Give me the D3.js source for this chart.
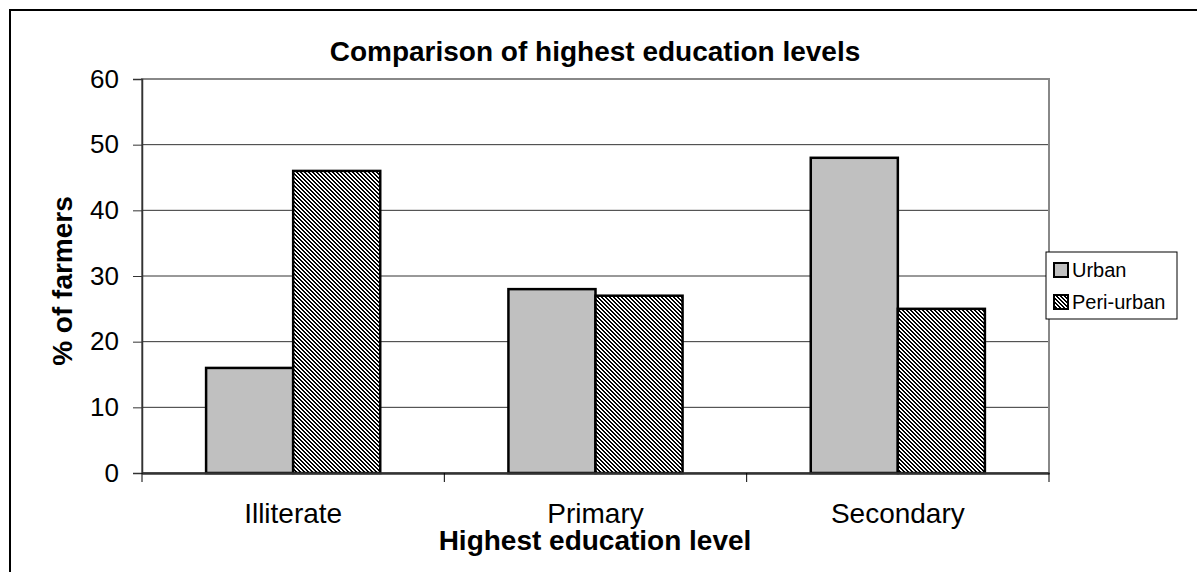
<!DOCTYPE html>
<html><head><meta charset="utf-8">
<script src="https://cdn.jsdelivr.net/npm/d3@7"></script>
<style>body{margin:0;background:#fff}svg{display:block}text{font-family:Arial,"Liberation Sans",sans-serif}</style>
</head><body>
<svg id="c" width="1197" height="572"></svg>
<script>
const categories = ["Illiterate", "Primary", "Secondary"];
const seriesNames = ["Urban", "Peri-urban"];
const urbanValues = [16, 28, 48];
const periUrbanValues = [46, 27, 25];
const yTicks = [0, 10, 20, 30, 40, 50, 60];

const FF = "Arial,'Liberation Sans',sans-serif";
const svg = d3.select("#c");
const defs = svg.append("defs");
const pat = defs.append("pattern").attr("id","hatch").attr("patternUnits","userSpaceOnUse")
  .attr("width",4).attr("height",4);
pat.append("rect").attr("width",4).attr("height",4).attr("fill","#fff");
d3.range(4).forEach(r=>{
  [r, (r+1)%4].forEach(c=>{
    pat.append("rect").attr("x",c).attr("y",r).attr("width",1).attr("height",1)
      .attr("fill","#000").attr("shape-rendering","crispEdges");
  });
});

// outer chart border
svg.append("rect").attr("x",10).attr("y",10).attr("width",1197).attr("height",600)
  .attr("fill","none").attr("stroke","#000").attr("stroke-width",2);

const L=142, R=1049, T=79, B=473;
const x = d3.scaleBand().domain(categories).range([L,R]);
const y = d3.scaleLinear().domain([0,60]).range([B,T]);

// gridlines
svg.append("g").selectAll("line").data(yTicks.slice(1,-1)).join("line")
  .attr("x1",L).attr("x2",R).attr("y1",d=>y(d)).attr("y2",d=>y(d))
  .attr("stroke","#333").attr("stroke-width",1);

// plot area border (gray)
svg.append("rect").attr("x",L).attr("y",T).attr("width",R-L).attr("height",B-T)
  .attr("fill","none").attr("stroke","#888").attr("stroke-width",2);

const barW = x.bandwidth()*0.288;
const series = [urbanValues, periUrbanValues];
const fills = ["#c0c0c0","url(#hatch)"];
series.forEach((vals,si)=>{
  svg.append("g").selectAll("rect").data(categories).join("rect")
    .attr("x",(d)=>x(d)+x.bandwidth()/2 + (si-1)*barW)
    .attr("y",(d,i)=>y(vals[i]))
    .attr("width",barW)
    .attr("height",(d,i)=>B-y(vals[i]))
    .attr("fill",fills[si]).attr("stroke","#000").attr("stroke-width",2.5);
});

// y axis
const ya = svg.append("g").attr("transform",`translate(${L},0)`)
  .call(d3.axisLeft(y).tickValues(yTicks).tickSize(9).tickPadding(14));
ya.select(".domain").attr("stroke","#333").attr("stroke-width",1.5);
ya.selectAll(".tick line").attr("stroke","#333");
ya.selectAll("text").attr("font-size",26).attr("fill","#000").attr("font-family",FF);

// x axis
const xa = svg.append("g").attr("transform",`translate(0,${B})`)
  .call(d3.axisBottom(x).tickSize(0).tickPadding(0));
xa.select(".domain").attr("stroke","#333").attr("stroke-width",2.5);
xa.selectAll("text").attr("font-size",28).attr("fill","#000").attr("dy",0).attr("y",50)
  .attr("font-family",FF);
const bounds = [L, ...categories.slice(1).map(c=>x(c)), R];
svg.append("g").selectAll("line").data(bounds).join("line")
  .attr("x1",d=>d).attr("x2",d=>d).attr("y1",B).attr("y2",B+9).attr("stroke","#000").attr("stroke-width",1);

// titles
svg.append("text").attr("x",595).attr("y",61).attr("text-anchor","middle")
  .attr("font-size",28).attr("font-weight","bold").text("Comparison of highest education levels");
svg.append("text").attr("x",595).attr("y",550).attr("text-anchor","middle")
  .attr("font-size",28).attr("font-weight","bold").text("Highest education level");
svg.append("text").attr("transform","translate(72,281) rotate(-90)").attr("text-anchor","middle")
  .attr("font-size",28).attr("font-weight","bold").text("% of farmers");

// legend
const lg = svg.append("g");
lg.append("rect").attr("x",1046).attr("y",252).attr("width",131).attr("height",67)
  .attr("fill","#fff").attr("stroke","#000").attr("stroke-width",1);
seriesNames.forEach((n,i)=>{
  const cy = 270 + i*32;
  lg.append("rect").attr("x",1054).attr("y",cy-7).attr("width",14).attr("height",14)
    .attr("fill",fills[i]).attr("stroke","#000").attr("stroke-width",2);
  lg.append("text").attr("x",1072).attr("y",cy+7).attr("font-size",20).text(n);
});
</script>
</body></html>
